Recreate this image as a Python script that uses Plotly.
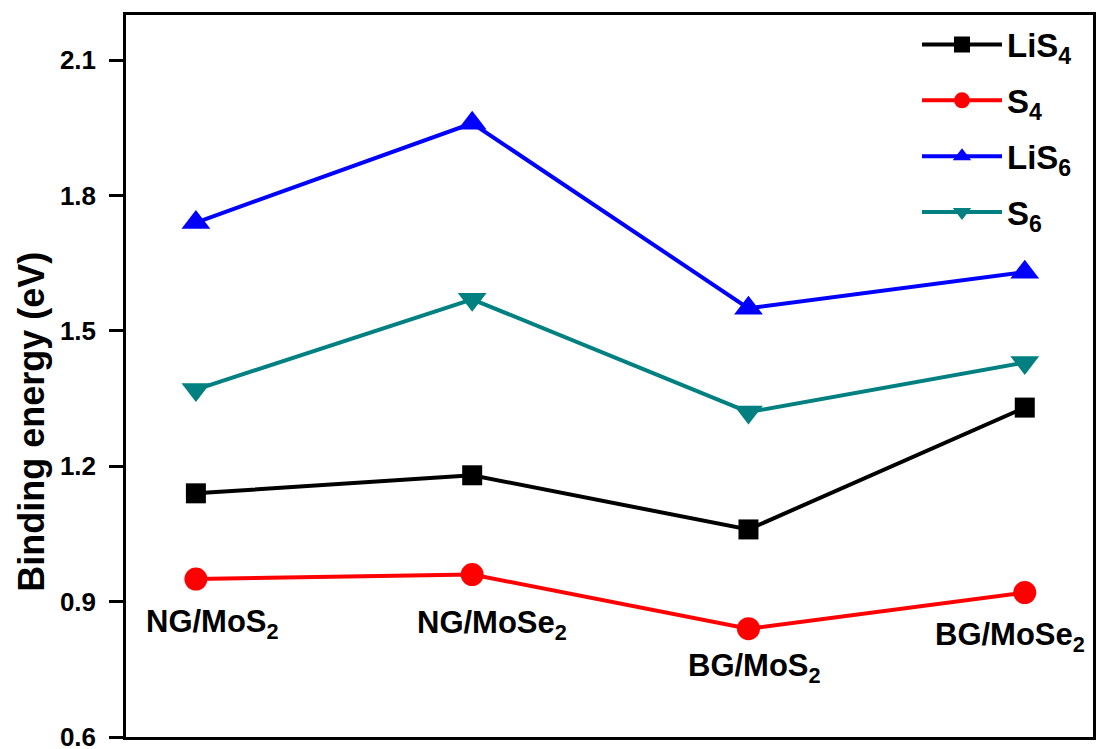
import plotly.graph_objects as go

categories = ["NG/MoS<sub>2</sub>", "NG/MoSe<sub>2</sub>", "BG/MoS<sub>2</sub>", "BG/MoSe<sub>2</sub>"]
x_idx = [0, 1, 2, 3]
lis4 = [1.14, 1.18, 1.06, 1.33]
s4 = [0.95, 0.96, 0.84, 0.92]
lis6 = [1.74, 1.96, 1.55, 1.63]
s6 = [1.37, 1.57, 1.32, 1.43]
label_y = [0.85, 0.848, 0.752, 0.822]
label_dx = [0.06, 0.072, 0.02, -0.054]
y_ticks = [0.6, 0.9, 1.2, 1.5, 1.8, 2.1]

FONT = "Arial, Liberation Sans, sans-serif"

series = [
    ("LiS<sub>4</sub>", lis4, "#000000", "square", 20),
    ("S<sub>4</sub>", s4, "#FF0000", "circle", 23),
    ("LiS<sub>6</sub>", lis6, "#0000FF", "triangle-up", 25),
    ("S<sub>6</sub>", s6, "#008080", "triangle-down", 25),
]

fig = go.Figure()
for i, (name, vals, color, sym, size) in enumerate(series):
    fig.add_trace(go.Scatter(
        x=x_idx, y=vals, name=name, mode="lines+markers",
        line=dict(color=color, width=4),
        marker=dict(symbol=sym, size=size, color=color),
        legendgroup=f"g{i}",
    ))

for xi, lab, ly, dx in zip(x_idx, categories, label_y, label_dx):
    fig.add_annotation(x=xi + dx, y=ly, text=lab, showarrow=False,
                       font=dict(family=FONT, size=31, color="black", weight="bold"),
                       xanchor="center", yanchor="middle")

# y-axis title as a free annotation (offset below the plot's middle as in the reference)
fig.add_annotation(x=-0.098, y=0.437, xref="paper", yref="paper",
                   text="Binding energy (eV)", textangle=-90, showarrow=False,
                   font=dict(family=FONT, size=36, color="black", weight="bold"),
                   xanchor="center", yanchor="middle")

fig.update_layout(
    width=1097, height=749,
    margin=dict(l=126, r=4, t=15, b=12),
    paper_bgcolor="white", plot_bgcolor="white",
    font=dict(family=FONT, color="black"),
    showlegend=True,
    legend=dict(x=0.818, y=0.998, xanchor="left", yanchor="top",
                font=dict(size=33, weight="bold", family=FONT),
                bgcolor="rgba(0,0,0,0)", tracegroupgap=10, itemwidth=80),
    xaxis=dict(range=[-0.253, 3.247], showticklabels=False, ticks="",
               showline=True, linecolor="black", linewidth=2.5, mirror=True,
               showgrid=False, zeroline=False, automargin=False),
    yaxis=dict(range=[0.6, 2.2], tickvals=y_ticks, ticktext=[f"{v:.1f}" for v in y_ticks],
               ticks="outside", ticklen=14, tickwidth=2.5, tickcolor="black",
               ticklabeloverflow="allow", ticklabelstandoff=8, automargin=False,
               tickfont=dict(size=26, weight="bold", family=FONT),
               showline=True, linecolor="black", linewidth=2.5, mirror=True,
               showgrid=False, zeroline=False),
)

fig.write_html("out.html")
